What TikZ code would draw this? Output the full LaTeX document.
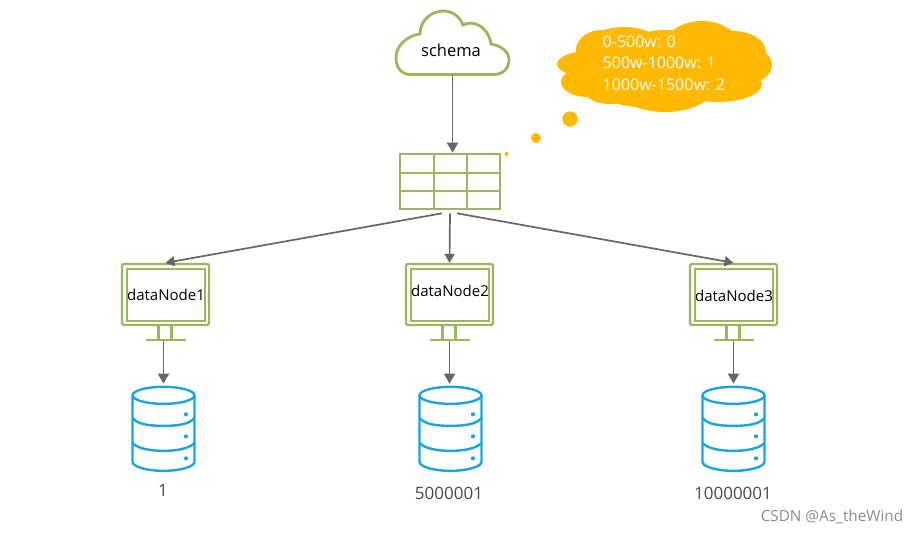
\documentclass[tikz,border=0pt]{standalone}
\usepackage{fontspec}
\setmainfont{Open Sans}
\usepackage{tikz}
\usetikzlibrary{arrows.meta,positioning,calc}
\definecolor{leaf}{HTML}{9BB65C}
\definecolor{sky}{HTML}{1AA5DE}
\definecolor{amber}{HTML}{FFB900}
\definecolor{wire}{HTML}{666666}
\definecolor{inkgray}{HTML}{4A4A4A}
\definecolor{markgray}{HTML}{8C8C8C}

% stand and inner frame of a monitor node
\newcommand{\monitorparts}[1]{
  \draw[leaf, line width=2.3pt] ($(#1.north west)+(6,6)$) rectangle ($(#1.south east)+(-5.5,-5.5)$);
  \draw[leaf, line width=2.3pt] ($(#1.south)+(-7,0)$) -- ++(0,13) ($(#1.south)+(6,0)$) -- ++(0,13);
  \draw[leaf, line width=2.3pt] ($(#1.south)+(-20,13.5)$) -- ++(40,0);
}
% cylinder drawn around the centre of a database node
\newcommand{\dbparts}[1]{
  \begin{scope}[shift={(#1.center)}, sky, line width=2.4pt]
    \draw (0,-33.5) ellipse (31 and 8.5);
    \draw (-31,-33.5) -- (-31,33) .. controls (-31,38) and (-16,42) .. (0,42) .. controls (16,42) and (31,38) .. (31,33) -- (31,-33.5);
    \draw (-31,-11) .. controls (-26,-4) and (-12,-3) .. (0,-3) .. controls (12,-3) and (26,-4) .. (31,-11);
    \draw (-31,14) .. controls (-26,20) and (-12,22) .. (0,22) .. controls (12,22) and (26,20) .. (31,14);
    \fill (22.5,-14.5) circle (2.1) (22.5,7.5) circle (2.1) (22.5,29.5) circle (2.1);
  \end{scope}
}

\begin{document}
\begin{tikzpicture}[
  x=1pt, y=-1pt,
  monitor/.style={draw=leaf, line width=2.3pt, rounded corners=2pt, minimum width=87pt, minimum height=61pt, inner sep=0pt},
  dbbox/.style={minimum width=63pt, minimum height=84pt, inner sep=0pt},
  gridbox/.style={draw=leaf, line width=2.6pt, minimum width=100pt, minimum height=55pt, inner sep=0pt},
  caption/.style={text=black, font=\fontsize{15}{18}\selectfont, inner sep=0pt},
  dbvalue/.style={text=inkgray, font=\fontsize{17}{20}\selectfont, inner sep=0pt},
  link/.style={draw=wire, line width=1.7pt, -{Triangle[length=9pt, width=10pt]}},
  feed/.style={draw=wire, line width=1.9pt, -{Triangle[length=10pt, width=11pt]}},
  node distance=60.5pt
]
  \fill[white] (0,0) rectangle (918,533);
  \useasboundingbox (0,0) rectangle (918,533);

  % schema cloud
  \draw[leaf, line width=2.8pt, fill=white] (410,74.5)
    .. controls (400,74) and (396,66) .. (396,58)
    .. controls (396,46) and (406,36) .. (420,34)
    .. controls (420,20) and (432,11) .. (443,11)
    .. controls (453,11) and (460,17) .. (463,25)
    .. controls (472,20) and (488,25) .. (491,44)
    .. controls (502,46) and (509,52) .. (509,60)
    .. controls (509,68) and (503,74.5) .. (494,74.5) -- cycle;
  \node[caption, font=\fontsize{16.5}{20}\selectfont] (schema) at (451,50.5) {schema};
  \coordinate (schemabottom) at (452.5,75);

  % mapping bubble
  \fill[amber] (624,52) ellipse (42 and 25) (590,64) ellipse (33 and 13) (602,50) ellipse (26 and 20)
    (588,82) ellipse (27 and 15) (610,90) ellipse (26 and 14)
    (640,88) ellipse (40 and 19) (665,85) ellipse (50 and 27) (702,54) ellipse (42 and 33)
    (733,52) ellipse (33 and 21) (745,65) ellipse (27 and 19) (718,84) ellipse (44 and 18)
    (665,60) ellipse (50 and 30);
  \fill[amber] (570,119) circle (7.7) (536,138) circle (5) (506.5,154) circle (2.1);
  \node[text=white, font=\fontsize{16}{21.5}\selectfont, align=left, inner sep=0pt, anchor=west] (ranges) at (602.5,63)
    {0-500w: 0\\500w-1000w: 1\\1000w-1500w: 2};

  % routing table
  \node[gridbox] (routing) at (450,181.5) {};
  \draw[leaf, line width=2.6pt] (434,154) -- (434,209) (467,154) -- (467,209)
    (400,173) -- (500,173) (400,191) -- (500,191);

  % data nodes
  \node[monitor] (node1) at (165.5,294.5) {};
  \node[monitor] (node2) at (449.5,294.5) {};
  \node[monitor] (node3) at (733.5,294.5) {};
  \monitorparts{node1}
  \monitorparts{node2}
  \monitorparts{node3}
  \node[caption] (label1) at (166,295) {dataNode1};
  \node[caption] (label2) at (450,291) {dataNode2};
  \node[caption] (label3) at (734,296) {dataNode3};

  % databases
  \node[dbbox, below=of node1, xshift=-2pt] (db1) {};
  \node[dbbox, below=of node2, xshift=1pt] (db2) {};
  \node[dbbox, below=of node3] (db3) {};
  \dbparts{db1}
  \dbparts{db2}
  \dbparts{db3}
  \node[dbvalue] (start1) at (163,490) {1};
  \node[dbvalue] (start2) at (449,493) {5000001};
  \node[dbvalue] (start3) at (733,493) {10000001};

  % connectors
  \draw[feed] (schemabottom) -- (schemabottom |- routing.north);
  \draw[link] ($(routing.south)+(-8,3)$) -- (node1.north);
  \draw[link] ($(routing.south)+(0,3)$) -- (node2.north);
  \draw[link] ($(routing.south)+(7,3)$) -- (node3.north);
  \draw[feed] ($(node1.south)+(-2,15)$) -- ($(db1.north)+(0,-3)$);
  \draw[feed] ($(node2.south)+(0,15)$) -- ($(node2.south |- db2.north)+(0,-3)$);
  \draw[feed] ($(node3.south)+(0,15)$) -- ($(db3.north)+(0,-3)$);

  \node[text=markgray, font=\fontsize{15.3}{18}\selectfont, inner sep=0pt] (credit) at (832,517) {CSDN @As\_theWind};
\end{tikzpicture}
\end{document}
